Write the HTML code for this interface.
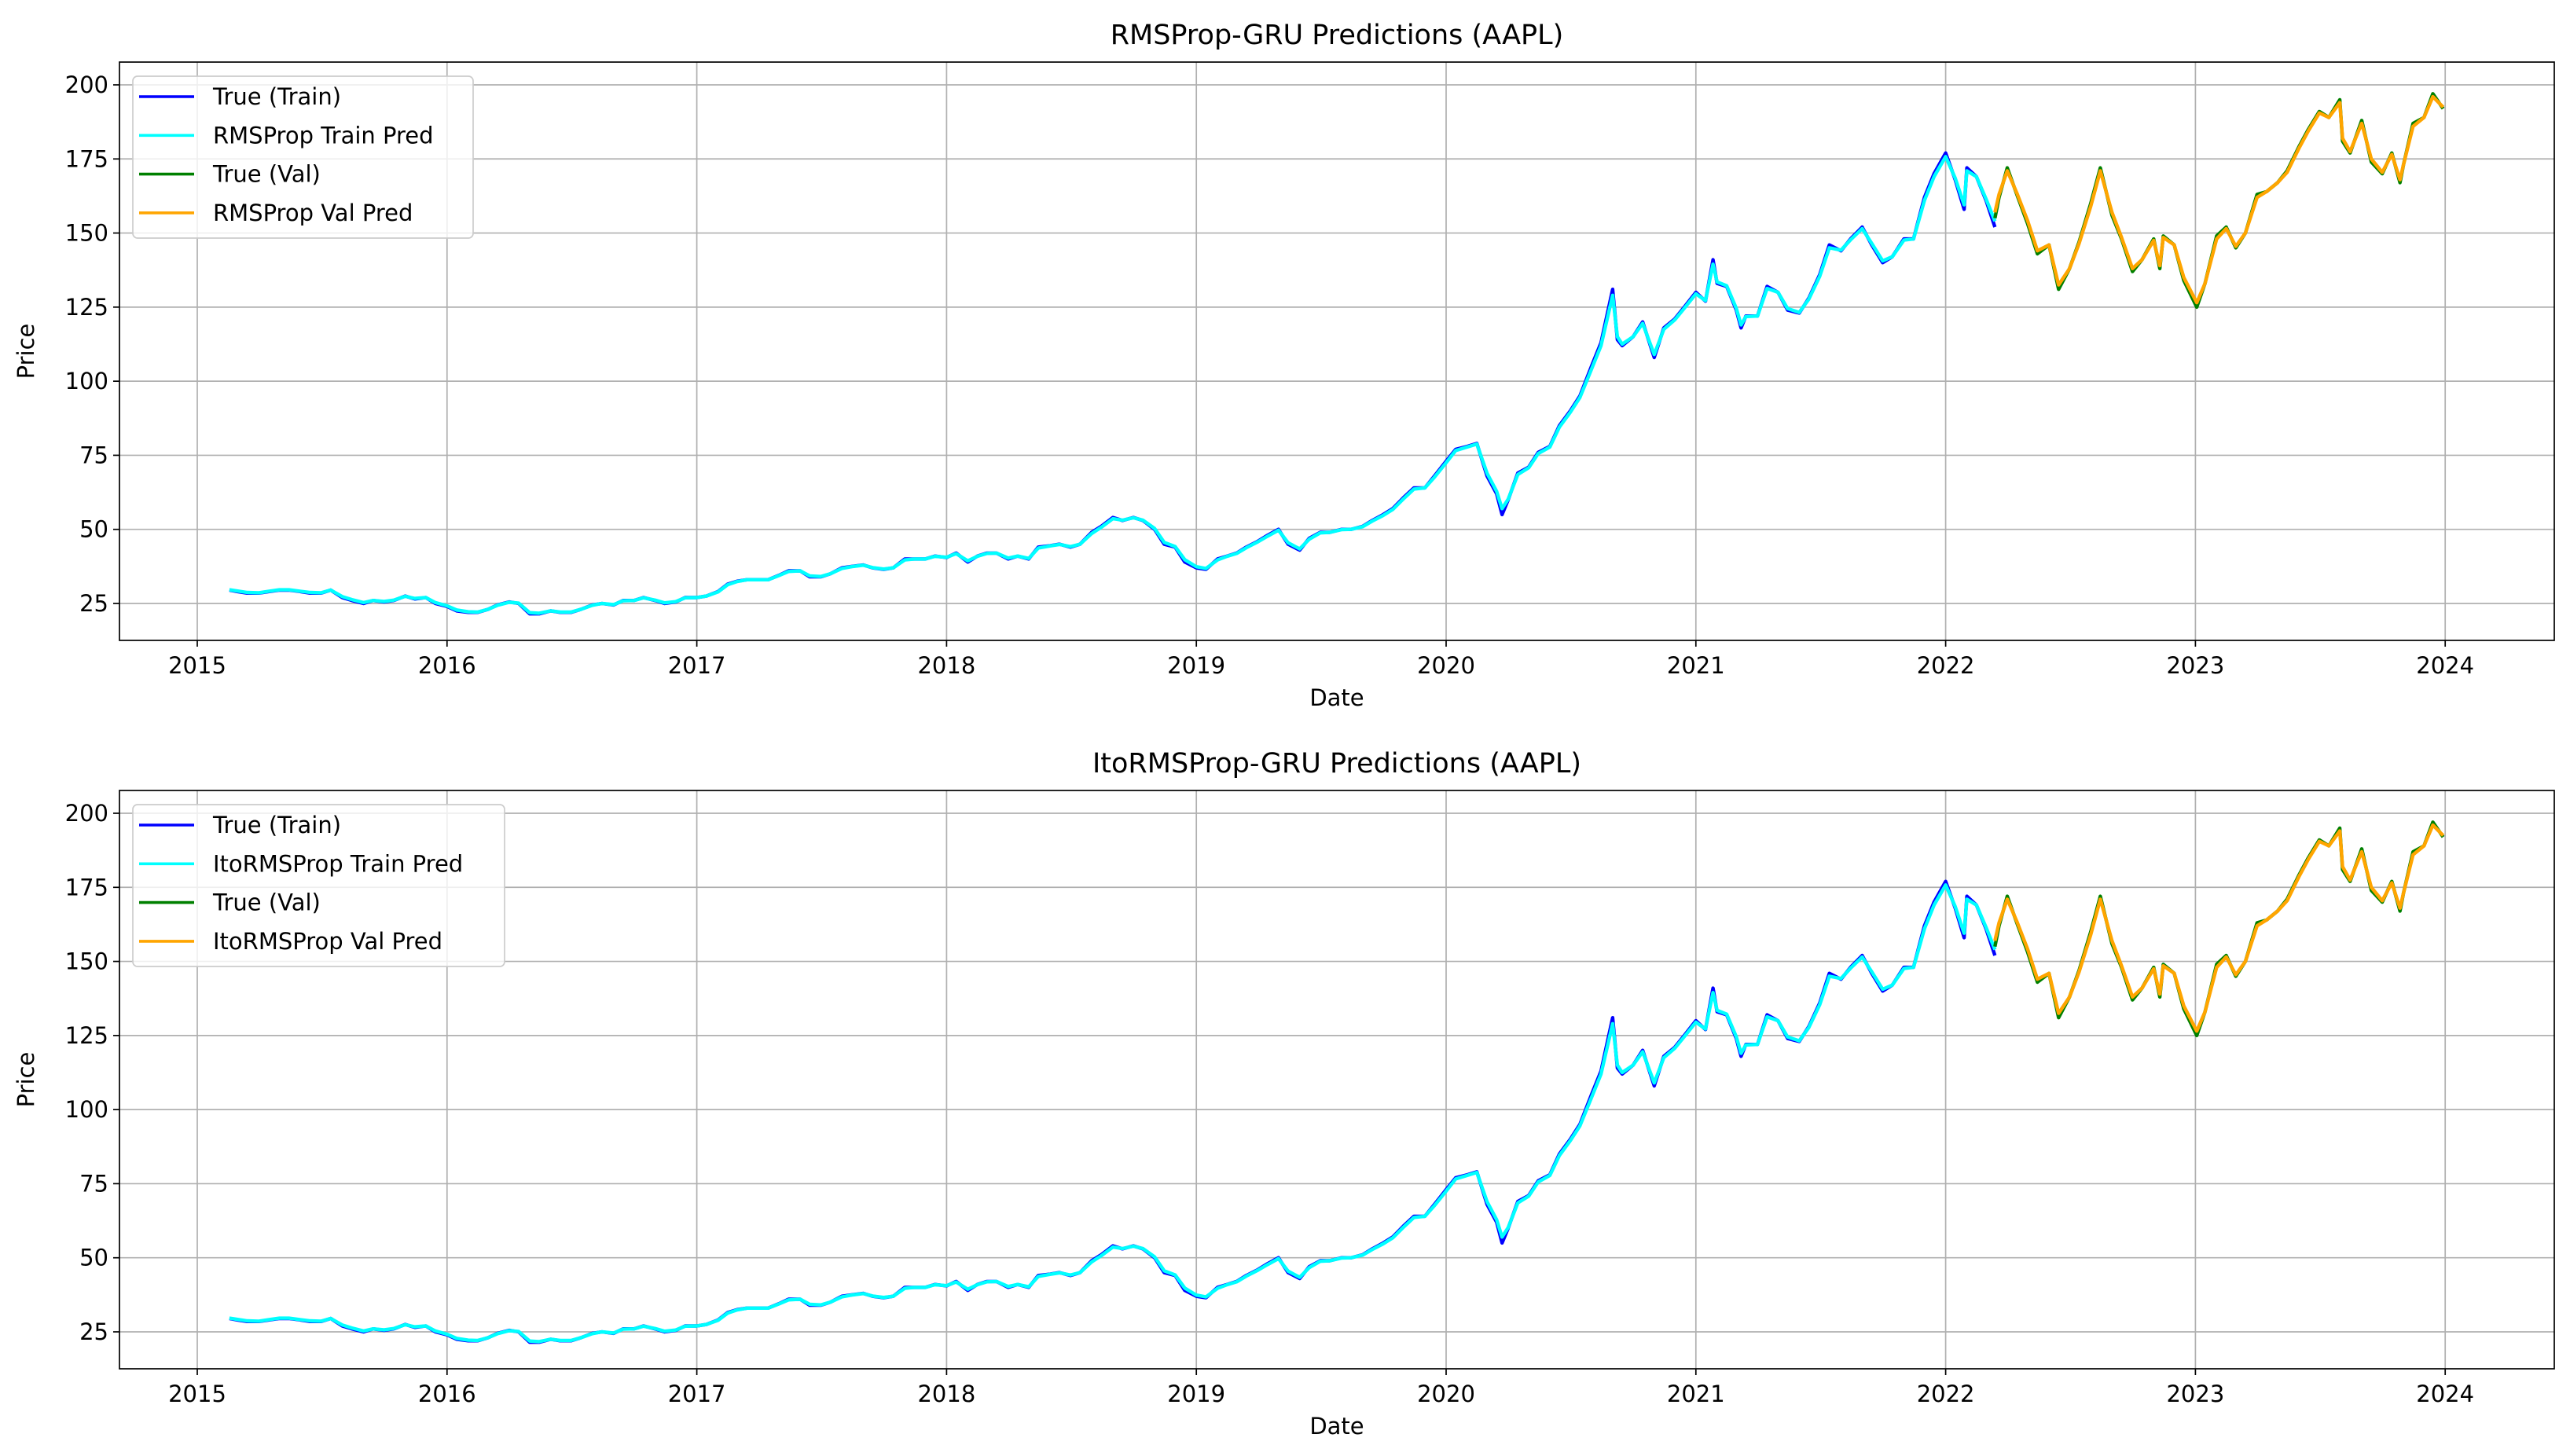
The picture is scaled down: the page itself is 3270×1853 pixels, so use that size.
<!DOCTYPE html>
<html><head><meta charset="utf-8">
<style>
html,body{margin:0;padding:0;background:#fff;}
svg{display:block;font-family:"DejaVu Sans","Liberation Sans",sans-serif;}
</style></head>
<body>
<svg id="chart" width="3270" height="1853" viewBox="0 0 3270 1853" xmlns="http://www.w3.org/2000/svg"></svg>
<script>
// ---- data ----
const trainDates = ["2015-02-17","2015-03-01","2015-03-15","2015-04-01","2015-04-15","2015-05-01","2015-05-15","2015-06-01","2015-06-15","2015-07-01","2015-07-15","2015-08-01","2015-08-15","2015-09-01","2015-09-15","2015-10-01","2015-10-15","2015-11-01","2015-11-15","2015-12-01","2015-12-15",
"2016-01-01","2016-01-15","2016-02-01","2016-02-15","2016-03-01","2016-03-15","2016-04-01","2016-04-15","2016-05-01","2016-05-15","2016-06-01","2016-06-15","2016-07-01","2016-07-15","2016-08-01","2016-08-15","2016-09-01","2016-09-15","2016-10-01","2016-10-15","2016-11-01","2016-11-15","2016-12-01","2016-12-15",
"2017-01-01","2017-01-15","2017-02-01","2017-02-15","2017-03-01","2017-03-15","2017-04-01","2017-04-15","2017-05-01","2017-05-15","2017-06-01","2017-06-15","2017-07-01","2017-07-15","2017-08-01","2017-08-15","2017-09-01","2017-09-15","2017-10-01","2017-10-15","2017-11-01","2017-11-15","2017-12-01","2017-12-15",
"2018-01-01","2018-01-15","2018-02-01","2018-02-15","2018-03-01","2018-03-15","2018-04-01","2018-04-15","2018-05-01","2018-05-15","2018-06-01","2018-06-15","2018-07-01","2018-07-15","2018-08-01","2018-08-15","2018-09-01","2018-09-15","2018-10-01","2018-10-15","2018-11-01","2018-11-15","2018-12-01","2018-12-15",
"2019-01-01","2019-01-15","2019-02-01","2019-02-15","2019-03-01","2019-03-15","2019-04-01","2019-04-15","2019-05-01","2019-05-15","2019-06-01","2019-06-15","2019-07-01","2019-07-15","2019-08-01","2019-08-15","2019-09-01","2019-09-15","2019-10-01","2019-10-15","2019-11-01","2019-11-15","2019-12-01","2019-12-15",
"2020-01-01","2020-01-15","2020-02-01","2020-02-15","2020-03-01","2020-03-15","2020-03-23","2020-04-01","2020-04-15","2020-05-01","2020-05-15","2020-06-01","2020-06-15","2020-07-01","2020-07-15","2020-08-01","2020-08-15","2020-09-01","2020-09-08","2020-09-15","2020-10-01","2020-10-15","2020-11-01","2020-11-15","2020-12-01","2020-12-15",
"2021-01-01","2021-01-15","2021-01-26","2021-02-01","2021-02-15","2021-03-01","2021-03-08","2021-03-15","2021-04-01","2021-04-15","2021-05-01","2021-05-15","2021-06-01","2021-06-15","2021-07-01","2021-07-15","2021-08-01","2021-08-15","2021-09-01","2021-09-15","2021-10-01","2021-10-15","2021-11-01","2021-11-15","2021-12-01","2021-12-15",
"2022-01-01","2022-01-15","2022-01-28","2022-02-01","2022-02-15","2022-03-01","2022-03-14"];
const trueTrain = [29.5,29,28.5,28.5,29,29.5,29.5,29,28.5,28.5,29.5,27,26,25,26,25.5,26,27.5,26.5,27,25,
24,22.5,22,22,23,24.5,25.5,25,21.5,21.5,22.5,22,22,23,24.5,25,24.5,26,26,27,26,25,25.5,27,
27,27.5,29,31.5,32.5,33,33,33,34.5,36,36,34,34,35,37,37.5,38,37,36.5,37,40,40,40,41,
40.5,42,39,41,42,42,40,41,40,44,44.5,45,44,45,49,51,54,53,54,53,50,45,44,39,
37,36.5,40,41,42,44,46,48,50,45,43,47,49,49,50,50,51,53,55,57,61,64,64,68,
73,77,78,79,68,62,55,60,69,71,76,78,85,90,95,105,113,131,114,112,115,120,108,118,121,125,
130,127,141,133,132,124,118,122,122,132,130,124,123,128,136,146,144,148,152,146,140,142,148,148,162,170,
177,168,158,172,169,161,152];
const predTrain = [29.6,29.2,28.7,28.6,29.1,29.6,29.6,29.1,28.7,28.6,29.5,27.3,26.3,25.3,26,25.7,26.1,27.4,26.7,27,25.3,
24.2,22.8,22.2,22.1,23,24.4,25.4,25.1,21.9,21.7,22.5,22.1,22.1,23,24.4,25,24.6,25.9,26,26.9,26.1,25.2,25.6,26.9,
27,27.5,28.9,31.3,32.4,33,33,33,34.4,35.8,36,34.3,34.1,35,36.8,37.4,37.9,37.1,36.6,37,39.7,40,40,40.9,
40.6,41.8,39.4,40.9,41.9,42,40.3,41,40.2,43.7,44.4,44.9,44.2,45,48.6,50.7,53.6,53.1,53.9,53.1,50.3,45.6,44.2,39.8,
37.4,36.8,39.7,40.9,41.9,43.8,45.8,47.7,49.7,45.5,43.4,46.7,48.8,49,49.9,50,50.9,52.8,54.7,56.7,60.6,63.6,64,67.6,
72.5,76.6,77.8,78.8,68.9,62.8,57,60.2,68.5,70.8,75.6,77.8,84.5,89.5,94.5,104,112,129,115,112.5,115,119.5,109,117.5,120.7,124.6,
129.5,127.2,139.5,133.5,132.2,124.6,119,121.8,122,131.3,130,124.5,123.2,127.7,135.4,145,144.2,147.7,151.5,146.5,140.6,142,147.6,148,161,169,
175.8,168.5,159.5,171,169,161.5,154];
const valDates = ["2022-03-14","2022-03-20","2022-04-01","2022-04-15","2022-05-01","2022-05-15","2022-06-01","2022-06-15","2022-07-01","2022-07-15","2022-08-01","2022-08-15","2022-09-01","2022-09-15","2022-10-01","2022-10-15","2022-11-01","2022-11-10","2022-11-15","2022-12-01","2022-12-15",
"2023-01-03","2023-01-15","2023-02-01","2023-02-15","2023-03-01","2023-03-15","2023-04-01","2023-04-15","2023-05-01","2023-05-15","2023-06-01","2023-06-15","2023-07-01","2023-07-15","2023-07-31","2023-08-04","2023-08-15","2023-09-01","2023-09-15","2023-10-01","2023-10-15","2023-10-27","2023-11-01","2023-11-15","2023-12-01","2023-12-14","2023-12-29"];
const trueVal = [155,162,172,163,153,143,146,131,138,147,160,172,156,148,137,141,148,138,149,146,134,
125,133,149,152,145,150,163,164,167,171,179,185,191,189,195,181,177,188,174,170,177,167,173,187,189,197,192];
const predVal = [157,163,171,163.5,154,144,146,132.5,138,146.5,159,171,157,148.5,138,141,147.5,139,148.5,146,135,
126.5,133,148,151.5,145.5,150,162,164,167,170.5,178.5,184.5,190.5,189,194,182,177.5,187,175,170.5,176.5,168,173,186,189,196,192.5];
const yTicks = [25,50,75,100,125,150,175,200];
const xTicks = [2015,2016,2017,2018,2019,2020,2021,2022,2023,2024];

// ---- layout ----
const NS = "http://www.w3.org/2000/svg";
const svg = document.getElementById('chart');
function mk(tag, attrs, parent){const e=document.createElementNS(NS,tag);for(const k in attrs)e.setAttribute(k,attrs[k]);(parent||svg).appendChild(e);return e;}
const L=152,R=3250;
function yearFrac(s){const d=new Date(s+"T00:00:00Z");const y=d.getUTCFullYear();const st=Date.UTC(y,0,1),en=Date.UTC(y+1,0,1);return y+(d-st)/(en-st);}
function xScale(yf){return 251+(yf-2015)*317.8;}

const panels=[
 {top:79,bottom:815,title:"RMSProp-GRU Predictions (AAPL)",titleY:56,xlabY:908,lab:"RMSProp",legW:433,key:"rmsprop"},
 {top:1006,bottom:1742,title:"ItoRMSProp-GRU Predictions (AAPL)",titleY:983,xlabY:1835,lab:"ItoRMSProp",legW:473,key:"itormsprop"}
];
panels.forEach(p=>{
  const yS=v=>p.top+29+(200-v)*3.7714;
  const g=mk('g',{});
  
  
  xTicks.forEach(t=>{const x=xScale(t);
    const l=mk('line',{x1:x,x2:x,y1:p.top,y2:p.bottom,stroke:'#b0b0b0','stroke-width':1.7},g);
    
    const tk=mk('line',{x1:x,x2:x,y1:p.bottom,y2:p.bottom+8,stroke:'#000','stroke-width':1.7},g);
    
    const tx=mk('text',{x:x,y:p.bottom+42,'text-anchor':'middle','font-size':29,fill:'#000'},g);
    tx.textContent=t;});
  yTicks.forEach(t=>{const y=yS(t);
    const l=mk('line',{x1:L,x2:R,y1:y,y2:y,stroke:'#b0b0b0','stroke-width':1.7},g);
    
    const tk=mk('line',{x1:L-8,x2:L,y1:y,y2:y,stroke:'#000','stroke-width':1.7},g);
    
    const tx=mk('text',{x:L-14,y:y+10,'text-anchor':'end','font-size':29,fill:'#000'},g);
    tx.textContent=t;});
  const clip='clip'+p.key;
  const cp=mk('clipPath',{id:clip},g);mk('rect',{x:L,y:p.top,width:R-L,height:p.bottom-p.top},cp);
  const series=[[trainDates,trueTrain,'#0000ff','true-train-line'],[trainDates,predTrain,'#00ffff','train-pred-line'],[valDates,trueVal,'#008000','true-val-line'],[valDates,predVal,'#ffa500','val-pred-line']];
  series.forEach(s=>{
    const d=s[0].map((dt,i)=>(i?'L':'M')+xScale(yearFrac(dt)).toFixed(1)+','+yS(s[1][i]).toFixed(1)).join('');
    const pa=mk('path',{d:d,fill:'none',stroke:s[2],'stroke-width':4.4,'stroke-linejoin':'round','clip-path':'url(#'+clip+')'},g);
    
  });
  const fr=mk('rect',{x:L,y:p.top,width:R-L,height:p.bottom-p.top,fill:'none',stroke:'#000','stroke-width':1.7},g);
  
  const ti=mk('text',{x:(L+R)/2,y:p.titleY,'text-anchor':'middle','font-size':35,fill:'#000'},g);
  ti.textContent=p.title;
  const xl=mk('text',{x:(L+R)/2,y:p.xlabY-10,'text-anchor':'middle','font-size':29,fill:'#000'},g);
  xl.textContent='Date';
  const cy=(p.top+p.bottom)/2;
  const yl=mk('text',{x:43,y:cy,'text-anchor':'middle','font-size':29,fill:'#000',transform:'rotate(-90 43 '+cy+')'},g);
  yl.textContent='Price';
  const lg=mk('g',{},g);
  
  mk('rect',{x:169,y:p.top+18,width:p.legW,height:206,rx:6,fill:'#fff','fill-opacity':0.8,stroke:'#cccccc','stroke-width':1.7},lg);
  const ents=[['True (Train)','#0000ff'],[p.lab+' Train Pred','#00ffff'],['True (Val)','#008000'],[p.lab+' Val Pred','#ffa500']];
  ents.forEach((e,i)=>{const y=p.top+44+i*49.3;
    const eg=mk('g',{},lg);
    
    mk('line',{x1:177,x2:247,y1:y,y2:y,stroke:e[1],'stroke-width':3.6},eg);
    const t=mk('text',{x:271,y:y+10,'font-size':29,fill:'#000'},eg);t.textContent=e[0];});
});
</script>
</body></html>
